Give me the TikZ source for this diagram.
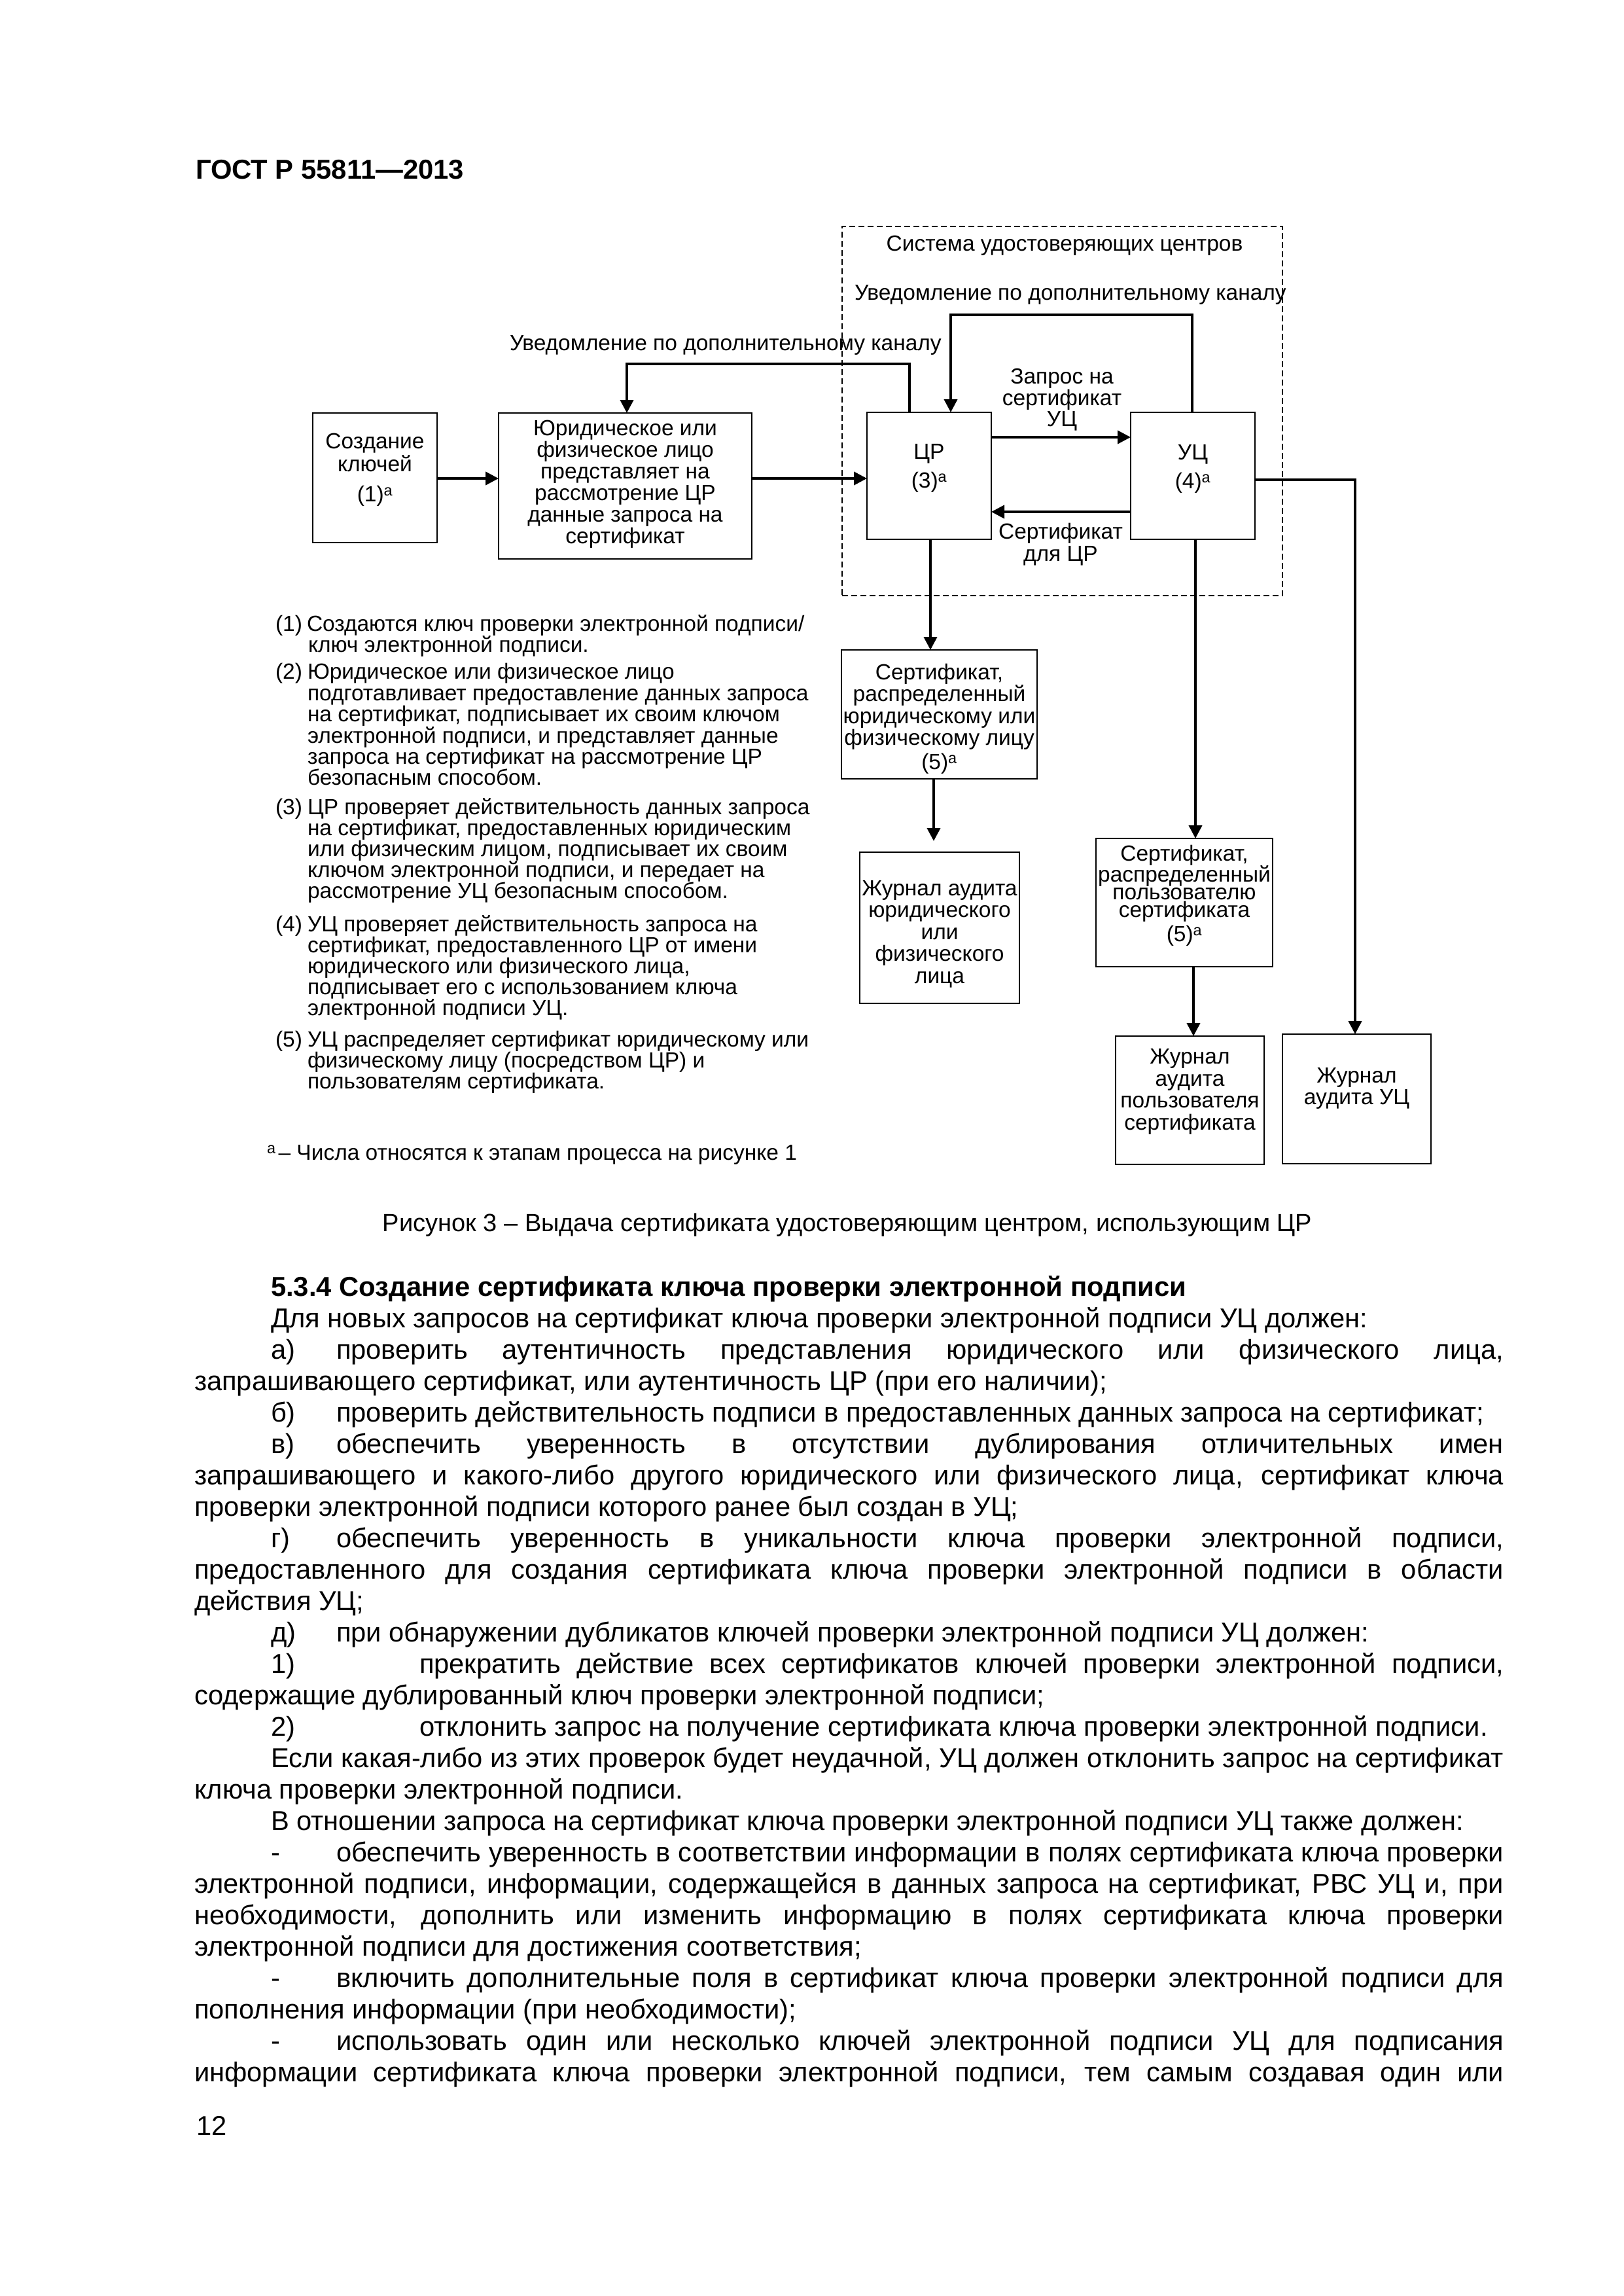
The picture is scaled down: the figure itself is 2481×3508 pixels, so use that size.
\documentclass[tikz,border=0pt]{standalone}
\usepackage{fontspec}
\setmainfont{Liberation Sans}
\usetikzlibrary{arrows.meta}
\newcommand\bfs{\fontsize{41.7}{48}\selectfont}
\newcommand\hfs{\fontsize{41.8}{48}\selectfont\bfseries}
\newcommand\cfs{\fontsize{38}{44}\selectfont}
\newcommand\nfs{\fontsize{33.5}{32}\selectfont}
\newcommand\Ln[5]{\node[txt,font=#1,anchor=base west] (#2) at (#3,#4) {#5};}
\newcommand\Lj[6]{\node[txt,font=#1,anchor=base west] (#2) at (#3,#4) {\makebox[#5pt][s]{#6}};}
\tikzset{
  txt/.style={inner sep=0pt, outer sep=0pt},
  btxt/.style={inner sep=0pt, outer sep=0pt, align=center},
  box/.style={draw, line width=2.5pt, inner sep=0pt, outer sep=0pt},
  dashbox/.style={draw, line width=2pt, dash pattern=on 9pt off 5pt, inner sep=0pt, outer sep=0pt},
  arr/.style={line width=4pt, -{Triangle[length=20pt,width=20pt]}},
}
\begin{document}
\begin{tikzpicture}[x=1pt,y=-1pt]
\fill[white] (0,0) rectangle (2481,3508);
\useasboundingbox (0,0) rectangle (2481,3508);

% header
\Ln{\hfs}{hdr}{299}{273}{ГОСТ Р 55811—2013}

% system frame
\node[dashbox, minimum width=673pt, minimum height=564pt] (sys) at (1623.5,628) {};
\node[txt, font=\nfs, anchor=base] (systxt) at (1627,383) {Система удостоверяющих центров};

% boxes
\node[box, minimum width=190pt, minimum height=198pt] (sozd) at (573,730) {};
\node[box, minimum width=387pt, minimum height=223pt] (yur) at (955.5,742.5) {};
\node[box, minimum width=190pt, minimum height=194pt] (cr) at (1420,727) {};
\node[box, minimum width=190pt, minimum height=194pt] (uc) at (1823,727) {};
\node[box, minimum width=299pt, minimum height=197pt] (certyur) at (1435.5,1091.5) {};
\node[box, minimum width=244pt, minimum height=231pt] (zhyur) at (1436,1417.5) {};
\node[box, minimum width=270pt, minimum height=196pt] (certpol) at (1810,1379) {};
\node[box, minimum width=227pt, minimum height=196pt] (zhpol) at (1818.5,1681) {};
\node[box, minimum width=227pt, minimum height=198pt] (zhuc) at (2073.5,1679) {};

% box texts
\node[btxt, font=\fontsize{33.5}{35}\selectfont] (sozdt) at (sozd.center |- 0,717.5) {Создание\\ключей\\[11pt](1)\textsuperscript{a}};
\node[btxt, font=\fontsize{33.5}{33}\selectfont] (yurt) at (yur.center |- 0,740) {Юридическое или\\физическое лицо\\представляет на\\рассмотрение ЦР\\данные запроса на\\сертификат};
\node[btxt, font=\fontsize{33.5}{34}\selectfont] (crt) at (cr.center |- 0,715) {ЦР\\[10pt](3)\textsuperscript{a}};
\node[btxt, font=\fontsize{33.5}{34}\selectfont] (uct) at (uc.center |- 0,716) {УЦ\\[10pt](4)\textsuperscript{a}};
\node[btxt, font=\fontsize{33.5}{33.5}\selectfont] (certyurt) at (certyur.center |- 0,1098) {Сертификат,\\распределенный\\юридическому или\\физическому лицу\\[3pt](5)\textsuperscript{a}};
\node[btxt, font=\fontsize{33.5}{33.5}\selectfont] (zhyurt) at (zhyur.center |- 0,1427) {Журнал аудита\\юридического\\или\\физического\\лица};
\node[btxt, font=\fontsize{33.5}{27}\selectfont] (certpolt) at (certpol.center |- 0,1368) {Сертификат,\\распределенный\\пользователю\\сертификата\\[4pt](5)\textsuperscript{a}};
\node[btxt, font=\fontsize{33.5}{33.5}\selectfont] (zhpolt) at (zhpol.center |- 0,1668) {Журнал\\аудита\\пользователя\\сертификата};
\node[btxt, font=\fontsize{33.5}{33}\selectfont] (zhuct) at (zhuc.center |- 0,1663) {Журнал\\аудита УЦ};

% connector labels
\Ln{\nfs}{lbn1}{779}{535}{Уведомление по дополнительному каналу}
\Ln{\nfs}{lbn2}{1306}{458}{Уведомление по дополнительному каналу}
\node[btxt, font=\fontsize{33.5}{32.5}\selectfont] (lbreq) at (1623,611) {Запрос на\\сертификат\\УЦ};
\node[btxt, font=\fontsize{33.5}{34}\selectfont] (lbret) at (1621,832) {Сертификат\\для ЦР};

% helper coordinates
\coordinate (h1) at (0,731);
\coordinate (h2) at (0,668);
\coordinate (h3) at (0,782);
\coordinate (h4) at (0,733);
\coordinate (n1a) at (1390,556);
\coordinate (n1b) at (958,556);
\coordinate (n2a) at (1822,481);
\coordinate (n2b) at (1453,481);
\coordinate (v1) at (1422,0);
\coordinate (v2) at (1427,0);
\coordinate (v2e) at (1427,1285);
\coordinate (v3) at (1827,0);
\coordinate (v4) at (1824,0);
\coordinate (v5) at (2071,733);

% connectors
\draw[arr] (sozd.east |- h1) -- (yur.west |- h1);
\draw[arr] (yur.east |- h1) -- (cr.west |- h1);
\draw[arr] (cr.east |- h2) -- (uc.west |- h2);
\draw[arr] (uc.west |- h3) -- (cr.east |- h3);
\draw[arr] (cr.north -| n1a) -- (n1a) -- (n1b) -- (yur.north -| n1b);
\draw[arr] (uc.north -| n2a) -- (n2a) -- (n2b) -- (cr.north -| n2b);
\draw[arr] (cr.south -| v1) -- (certyur.north -| v1);
\draw[arr] (certyur.south -| v2) -- (v2e);
\draw[arr] (uc.south -| v3) -- (certpol.north -| v3);
\draw[arr] (certpol.south -| v4) -- (zhpol.north -| v4);
\draw[arr] (uc.east |- h4) -- (v5) -- (zhuc.north -| v5);

% notes
\Ln{\nfs}{k1}{421}{964}{(1)}
\Ln{\nfs}{t1a}{469}{964}{Создаются ключ проверки электронной подписи/}
\Ln{\nfs}{t1b}{471}{996}{ключ электронной подписи.}
\Ln{\nfs}{k2}{421}{1037}{(2)}
\Ln{\nfs}{t2a}{470}{1037}{Юридическое или физическое лицо}
\Ln{\nfs}{t2b}{470}{1070}{подготавливает предоставление данных запроса}
\Ln{\nfs}{t2c}{470}{1102}{на сертификат, подписывает их своим ключом}
\Ln{\nfs}{t2d}{470}{1135}{электронной подписи, и представляет данные}
\Ln{\nfs}{t2e}{470}{1167}{запроса на сертификат на рассмотрение ЦР}
\Ln{\nfs}{t2f}{470}{1199}{безопасным способом.}
\Ln{\nfs}{k3}{421}{1244}{(3)}
\Ln{\nfs}{t3a}{470}{1244}{ЦР проверяет действительность данных запроса}
\Ln{\nfs}{t3b}{470}{1276}{на сертификат, предоставленных юридическим}
\Ln{\nfs}{t3c}{470}{1308}{или физическим лицом, подписывает их своим}
\Ln{\nfs}{t3d}{470}{1340}{ключом электронной подписи, и передает на}
\Ln{\nfs}{t3e}{470}{1372}{рассмотрение УЦ безопасным способом.}
\Ln{\nfs}{k4}{421}{1423}{(4)}
\Ln{\nfs}{t4a}{470}{1423}{УЦ проверяет действительность запроса на}
\Ln{\nfs}{t4b}{470}{1455}{сертификат, предоставленного ЦР от имени}
\Ln{\nfs}{t4c}{470}{1487}{юридического или физического лица,}
\Ln{\nfs}{t4d}{470}{1519}{подписывает его с использованием ключа}
\Ln{\nfs}{t4e}{470}{1551}{электронной подписи УЦ.}
\Ln{\nfs}{k5}{421}{1599}{(5)}
\Ln{\nfs}{t5a}{470}{1599}{УЦ распределяет сертификат юридическому или}
\Ln{\nfs}{t5b}{470}{1631}{физическому лицу (посредством ЦР) и}
\Ln{\nfs}{t5c}{470}{1663}{пользователям сертификата.}
\Ln{\nfs}{fn}{408}{1772}{\textsuperscript{a}\kern4pt– Числа относятся к этапам процесса на рисунке 1}

% caption
\node[txt, font=\cfs, anchor=base] (cap) at (1295,1881) {Рисунок 3 – Выдача сертификата удостоверяющим центром, использующим ЦР};

% body text
\Ln{\hfs}{b0}{414}{1980}{5.3.4 Создание сертификата ключа проверки электронной подписи}
\Ln{\bfs}{b1}{414}{2028}{Для новых запросов на сертификат ключа проверки электронной подписи УЦ должен:}
\Ln{\bfs}{m2}{414}{2076}{а)}
\Lj{\bfs}{b2}{514}{2076}{1784}{проверить аутентичность представления юридического или физического лица,}
\Ln{\bfs}{b3}{297}{2124}{запрашивающего сертификат, или аутентичность ЦР (при его наличии);}
\Ln{\bfs}{m4}{414}{2172}{б)}
\Ln{\bfs}{b4}{514}{2172}{проверить действительность подписи в предоставленных данных запроса на сертификат;}
\Ln{\bfs}{m5}{414}{2220}{в)}
\Lj{\bfs}{b5}{514}{2220}{1784}{обеспечить уверенность в отсутствии дублирования отличительных имен}
\Lj{\bfs}{b6}{297}{2268}{2001}{запрашивающего и какого-либо другого юридического или физического лица, сертификат ключа}
\Ln{\bfs}{b7}{297}{2316}{проверки электронной подписи которого ранее был создан в УЦ;}
\Ln{\bfs}{m8}{414}{2364}{г)}
\Lj{\bfs}{b8}{514}{2364}{1784}{обеспечить уверенность в уникальности ключа проверки электронной подписи,}
\Lj{\bfs}{b9}{297}{2412}{2001}{предоставленного для создания сертификата ключа проверки электронной подписи в области}
\Ln{\bfs}{b10}{297}{2460}{действия УЦ;}
\Ln{\bfs}{m11}{414}{2508}{д)}
\Ln{\bfs}{b11}{514}{2508}{при обнаружении дубликатов ключей проверки электронной подписи УЦ должен:}
\Ln{\bfs}{m12}{414}{2556}{1)}
\Lj{\bfs}{b12}{641}{2556}{1657}{прекратить действие всех сертификатов ключей проверки электронной подписи,}
\Ln{\bfs}{b13}{297}{2604}{содержащие дублированный ключ проверки электронной подписи;}
\Ln{\bfs}{m14}{414}{2652}{2)}
\Ln{\bfs}{b14}{641}{2652}{отклонить запрос на получение сертификата ключа проверки электронной подписи.}
\Lj{\bfs}{b15}{414}{2700}{1884}{Если какая-либо из этих проверок будет неудачной, УЦ должен отклонить запрос на сертификат}
\Ln{\bfs}{b16}{297}{2748}{ключа проверки электронной подписи.}
\Ln{\bfs}{b17}{414}{2796}{В отношении запроса на сертификат ключа проверки электронной подписи УЦ также должен:}
\Ln{\bfs}{m18}{414}{2844}{-}
\Lj{\bfs}{b18}{514}{2844}{1784}{обеспечить уверенность в соответствии информации в полях сертификата ключа проверки}
\Lj{\bfs}{b19}{297}{2892}{2001}{электронной подписи, информации, содержащейся в данных запроса на сертификат, РВС УЦ и, при}
\Lj{\bfs}{b20}{297}{2940}{2001}{необходимости, дополнить или изменить информацию в полях сертификата ключа проверки}
\Ln{\bfs}{b21}{297}{2988}{электронной подписи для достижения соответствия;}
\Ln{\bfs}{m22}{414}{3036}{-}
\Lj{\bfs}{b22}{514}{3036}{1784}{включить дополнительные поля в сертификат ключа проверки электронной подписи для}
\Ln{\bfs}{b23}{297}{3084}{пополнения информации (при необходимости);}
\Ln{\bfs}{m24}{414}{3132}{-}
\Lj{\bfs}{b24}{514}{3132}{1784}{использовать один или несколько ключей электронной подписи УЦ для подписания}
\Lj{\bfs}{b25}{297}{3180}{2001}{информации сертификата ключа проверки электронной подписи, тем самым создавая один или}

% page number
\Ln{\bfs}{pg}{300}{3262}{12}
\end{tikzpicture}
\end{document}
